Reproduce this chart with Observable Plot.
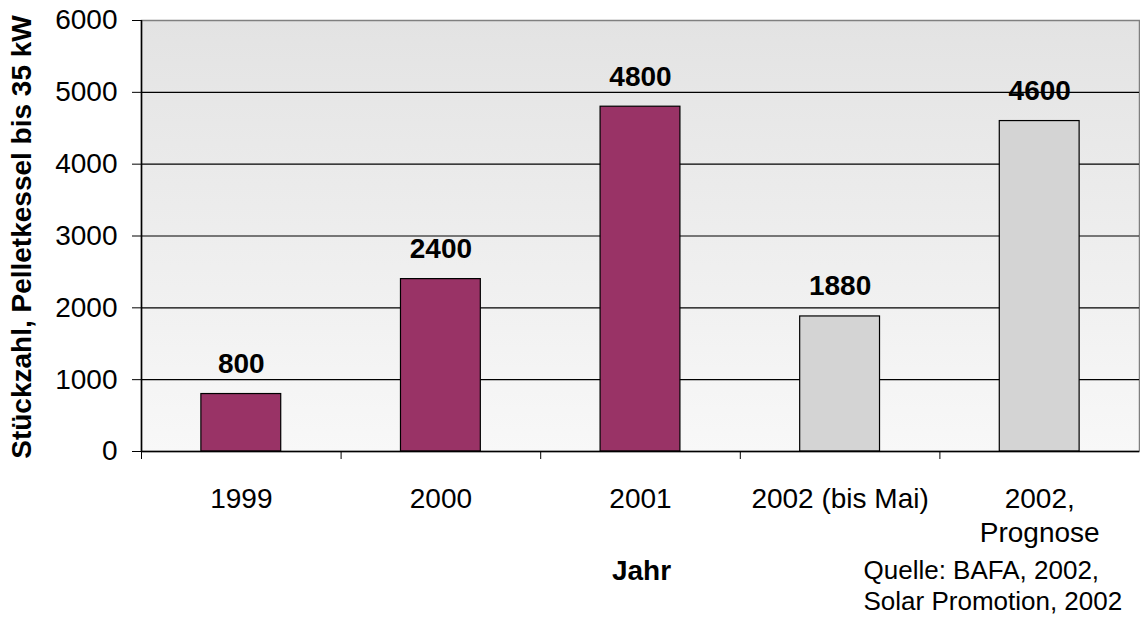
<!DOCTYPE html>
<html>
<head>
<meta charset="utf-8">
<script src="https://cdn.jsdelivr.net/npm/d3@7"></script>
<script src="https://cdn.jsdelivr.net/npm/@observablehq/plot@0.6"></script>
<style>
  html, body { margin: 0; padding: 0; background: #ffffff; }
  #chart svg { display: block; }
</style>
</head>
<body>
<div id="chart"></div>
<script>
// ---- data ----
const categories = ["1999", "2000", "2001", "2002 (bis Mai)", "2002,\nPrognose"];
const values = [800, 2400, 4800, 1880, 4600];
const seriesType = ["Ist", "Ist", "Ist", "Teil", "Prognose"];
const yTicks = [0, 1000, 2000, 3000, 4000, 5000, 6000];
const yTitle = "Stückzahl, Pelletkessel bis 35 kW";
const xTitle = "Jahr";
const sourceText = "Quelle: BAFA, 2002,\nSolar Promotion, 2002";

const colorMap = {Ist: "#993366", Teil: "#d4d4d4", Prognose: "#d4d4d4"};

const data = categories.map((c, i) => ({i, label: c, value: values[i], type: seriesType[i]}));
const boundaries = categories.map((c, i) => i);

const defs = () => {
  const g = d3.create("svg:defs");
  const lg = g.append("linearGradient").attr("id", "bg").attr("x1", 0).attr("y1", 0).attr("x2", 0).attr("y2", 1);
  lg.append("stop").attr("offset", "0%").attr("stop-color", "#e3e3e3");
  lg.append("stop").attr("offset", "100%").attr("stop-color", "#f8f8f8");
  return g.node();
};

const chart = Plot.plot({
  width: 1140,
  height: 617,
  marginLeft: 141,
  marginRight: 1,
  marginTop: 20,
  marginBottom: 166,
  style: {fontFamily: "'Liberation Sans', Arial, sans-serif", background: "#ffffff", color: "#000"},
  x: {type: "linear", domain: [0, categories.length], axis: null},
  y: {domain: [0, 6000], axis: null},
  marks: [
    defs,
    Plot.frame({fill: "url(#bg)", stroke: "#808080", strokeWidth: 1.5}),
    Plot.ruleY(yTicks.filter(t => t > 0 && t < 6000), {stroke: "#000", strokeWidth: 1.2}),
    Plot.rect(data, {
      x1: d => d.i + 0.3, x2: d => d.i + 0.7,
      y1: 0, y2: "value",
      fill: d => colorMap[d.type],
      stroke: "#000", strokeWidth: 1.2
    }),
    Plot.ruleX([0], {stroke: "#000", strokeWidth: 1.5}),
    Plot.ruleY([0], {stroke: "#000", strokeWidth: 1.5}),
    Plot.axisY({ticks: yTicks, tickSize: 9, tickPadding: 15, fontSize: 28, label: null, tickFormat: d => String(d), stroke: "#000"}),
    Plot.axisX({ticks: boundaries, tickSize: 8, tickFormat: () => "", label: null, stroke: "#000"}),
    Plot.text(data, {
      x: d => d.i + 0.5, y: 0, text: "label",
      fontSize: 28, lineAnchor: "top", dy: 32, lineHeight: 1.22, fill: "#000"
    }),
    Plot.text(data, {
      x: d => d.i + 0.5, y: "value", text: d => String(d.value),
      fontSize: 28, fontWeight: "bold", dy: -30, fill: "#000"
    }),
    Plot.text([yTitle], {
      frameAnchor: "left", textAnchor: "middle", rotate: -90, dx: -119, dy: 1,
      fontSize: 28, fontWeight: "bold", fill: "#000"
    }),
    Plot.text([xTitle], {
      frameAnchor: "bottom", dy: 128, dx: 1,
      fontSize: 28, fontWeight: "bold", fill: "#000"
    }),
    Plot.text([sourceText], {
      frameAnchor: "bottom-right", textAnchor: "start", lineAnchor: "top",
      dx: -276, dy: 105, fontSize: 26, lineHeight: 1.2, fill: "#000"
    })
  ]
});
document.getElementById("chart").appendChild(chart);
</script>
</body>
</html>
